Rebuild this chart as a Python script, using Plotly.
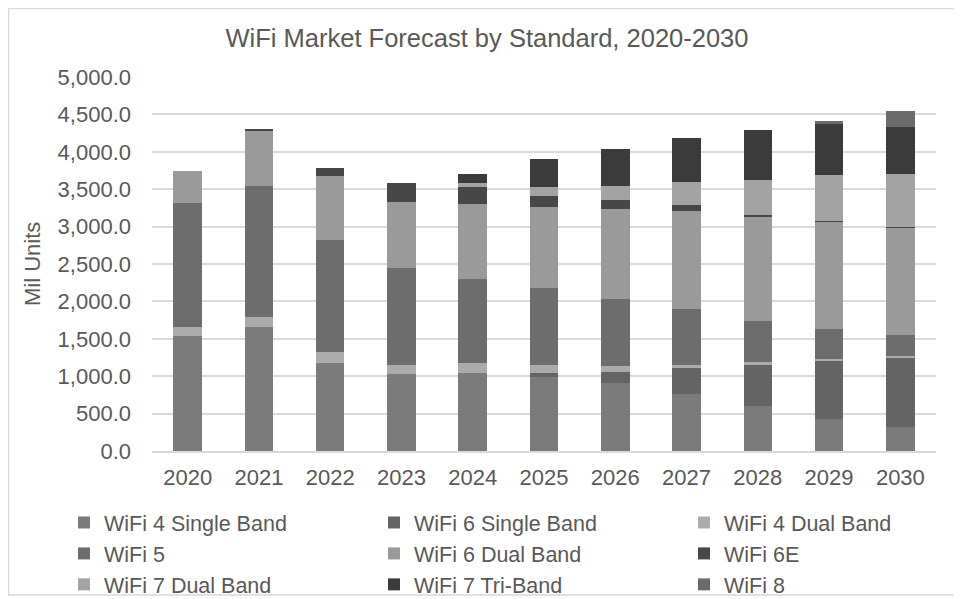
import plotly.graph_objects as go

years = ["2020", "2021", "2022", "2023", "2024", "2025", "2026", "2027", "2028", "2029", "2030"]

wifi4_single = [1538, 1653, 1181, 1029, 1038, 994, 905, 762, 602, 428, 316]
wifi6_single = [0, 0, 0, 0, 0, 53, 156, 343, 548, 776, 934]
wifi4_dual = [124, 143, 143, 116, 134, 103, 75, 45, 44, 22, 20]
wifi5 = [1658, 1747, 1497, 1302, 1132, 1025, 901, 744, 549, 401, 276]
wifi6_dual = [428, 738, 860, 882, 998, 1083, 1194, 1310, 1390, 1439, 1440]
wifi6e = [0, 20, 98, 250, 223, 151, 125, 81, 22, 10, 15]
wifi7_dual = [0, 0, 0, 0, 54, 125, 187, 312, 468, 611, 704]
wifi7_tri = [0, 0, 0, 0, 124, 366, 490, 583, 669, 682, 624]
wifi8 = [0, 0, 0, 0, 0, 0, 0, 0, 0, 44, 219]

series_names = ["WiFi 4 Single Band", "WiFi 6 Single Band", "WiFi 4 Dual Band",
                "WiFi 5", "WiFi 6 Dual Band", "WiFi 6E",
                "WiFi 7 Dual Band", "WiFi 7 Tri-Band", "WiFi 8"]
series_values = [wifi4_single, wifi6_single, wifi4_dual, wifi5, wifi6_dual,
                 wifi6e, wifi7_dual, wifi7_tri, wifi8]
series_colors = ["#7b7b7b", "#646464", "#ababab", "#6d6d6d", "#9a9a9a",
                 "#474747", "#a3a3a3", "#3b3b3b", "#6b6b6b"]

TXT = "#595959"
FONT = "Liberation Sans"

fig = go.Figure()
for name, vals, col in zip(series_names, series_values, series_colors):
    fig.add_trace(go.Bar(x=years, y=vals, name=name,
                         marker=dict(color=col, line=dict(width=0))))

# page body has an 8px margin: figure coordinates = screen - 8
OFF = 8
W, H = 962 - OFF, 599 - OFF
L, R, T, B = 152 - OFF, 936 - OFF, 77 - OFF, 451 - OFF
pw, ph = R - L, B - T


def px(x):  # screen x -> paper
    return (x - OFF - L) / pw


def py(y):  # screen y -> paper
    return (B - (y - OFF)) / ph


fig.update_layout(
    width=W, height=H,
    margin=dict(l=L, r=W - R, t=T, b=H - B, pad=0, autoexpand=False),
    barmode="stack", bargap=0.6,
    paper_bgcolor="white", plot_bgcolor="white",
    font=dict(family=FONT, color=TXT, size=22),
    title=dict(text="WiFi Market Forecast by Standard, 2020-2030",
               font=dict(size=25.5, color=TXT, family=FONT),
               x=(487 - OFF) / W, xanchor="center", xref="container",
               y=1 - (38 - OFF) / H, yanchor="middle"),
    xaxis=dict(showgrid=False, showline=True, linecolor="#d9d9d9", linewidth=1.5,
               ticks="", tickfont=dict(size=22, color=TXT), ticklabelstandoff=6,
               fixedrange=True),
    yaxis=dict(range=[0, 5000], dtick=500, tickformat=",.1f",
               showgrid=True, gridcolor="#d9d9d9", gridwidth=1.5,
               zeroline=False, showline=False, ticks="",
               tickfont=dict(size=22, color=TXT), ticklabelstandoff=20,
               fixedrange=True),
    legend=dict(orientation="h", traceorder="normal",
                x=px(64), xanchor="left", y=py(502), yanchor="top",
                entrywidth=265, entrywidthmode="pixels",
                font=dict(size=21.5, color=TXT), itemwidth=30,
                bgcolor="rgba(0,0,0,0)"),
    showlegend=True,
    annotations=[dict(text="Mil Units", textangle=-90, x=px(32), y=py(264),
                      xref="paper", yref="paper", showarrow=False,
                      font=dict(size=22, color=TXT, family=FONT),
                      xanchor="center", yanchor="middle")],
    shapes=[dict(type="rect", xref="paper", yref="paper",
                 x0=px(8.5), x1=px(975), y0=py(595), y1=py(8.5),
                 line=dict(color="#d9d9d9", width=1.5), fillcolor="rgba(0,0,0,0)",
                 layer="below")],
)

fig.write_html("out.html")
